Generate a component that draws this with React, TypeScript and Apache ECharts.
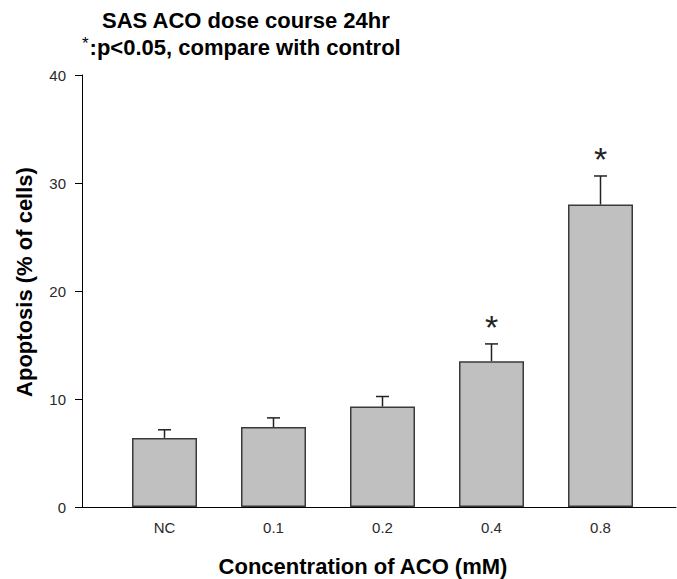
import React, { useEffect, useRef } from "react";
import * as echarts from "echarts";

const categories = ["NC", "0.1", "0.2", "0.4", "0.8"];
const means = [6.4, 7.4, 9.3, 13.5, 28.0];
const errors = [0.75, 0.85, 0.93, 1.6, 2.65];
const significant = [false, false, false, true, true];
const yTicks = { min: 0, max: 40, interval: 10 };

const titleLine1 = "SAS ACO dose course 24hr";
const titleLine2 = ":p<0.05, compare with control";
const xTitle = "Concentration of ACO (mM)";
const yTitle = "Apoptosis (% of cells)";

const FONT = "'Liberation Sans', Arial, sans-serif";

export default function App() {
  const ref = useRef<HTMLDivElement>(null);
  useEffect(() => {
    document.body.style.margin = "0";
    if (!ref.current) return;
    const chart = echarts.init(ref.current, undefined, { renderer: "svg" });
    const errData = categories.map((c, i) => [i, means[i], errors[i], significant[i] ? 1 : 0]);
    chart.setOption({
      animation: false,
      backgroundColor: "#ffffff",
      textStyle: { fontFamily: FONT },
      grid: [
        { left: 82, right: 1, top: 75, bottom: 72 },
        { left: 110, width: 545, top: 75, bottom: 72 },
      ],
      xAxis: [
        {
          type: "category",
          gridIndex: 0,
          data: [""],
          axisLine: { lineStyle: { color: "#000", width: 1 } },
          axisTick: { show: false },
          axisLabel: { show: false },
        },
        {
          type: "category",
          gridIndex: 1,
          data: categories,
          axisLine: { show: false },
          axisTick: { show: false },
          axisLabel: { margin: 13, fontSize: 15, color: "#2a2a2a", fontFamily: FONT },
        },
      ],
      yAxis: [
        {
          type: "value",
          gridIndex: 0,
          min: yTicks.min,
          max: yTicks.max,
          interval: yTicks.interval,
          splitLine: { show: false },
          axisLine: { show: true, lineStyle: { color: "#000", width: 1 } },
          axisTick: { show: true, length: 7, lineStyle: { color: "#000" } },
          axisLabel: { margin: 16, fontSize: 15, color: "#2a2a2a", fontFamily: FONT },
        },
        {
          type: "value",
          gridIndex: 1,
          min: yTicks.min,
          max: yTicks.max,
          interval: yTicks.interval,
          show: false,
        },
      ],
      series: [
        {
          type: "bar",
          xAxisIndex: 1,
          yAxisIndex: 1,
          data: means,
          barWidth: 65,
          itemStyle: { color: "#c0c0c0", borderColor: "#3a3a3a", borderWidth: 1.5 },
        },
        {
          type: "custom",
          xAxisIndex: 1,
          yAxisIndex: 1,
          clip: false,
          data: errData,
          renderItem: (params: any, api: any) => {
            const idx = api.value(0);
            const m = api.value(1);
            const e = api.value(2);
            const sig = api.value(3);
            const base = api.coord([idx, m]);
            const top = api.coord([idx, m + e]);
            const half = 6.5;
            const children: any[] = [
              {
                type: "line",
                shape: { x1: base[0], y1: base[1], x2: top[0], y2: top[1] },
                style: { stroke: "#222", lineWidth: 1.5 },
              },
              {
                type: "line",
                shape: { x1: top[0] - half, y1: top[1], x2: top[0] + half, y2: top[1] },
                style: { stroke: "#222", lineWidth: 1.5 },
              },
            ];
            if (sig) {
              children.push({
                type: "text",
                style: {
                  text: "*",
                  x: top[0],
                  y: top[1] - 17,
                  align: "center",
                  verticalAlign: "middle",
                  font: `normal 34px ${FONT}`,
                  fill: "#222",
                },
              });
            }
            return { type: "group", children };
          },
        },
      ],
      graphic: [
        {
          type: "text",
          style: {
            text: titleLine1,
            x: 102,
            y: 20,
            align: "left",
            verticalAlign: "middle",
            font: `bold 22px ${FONT}`,
            fill: "#000",
          },
        },
        {
          type: "text",
          style: {
            text: "{a|*}{b|" + titleLine2 + "}",
            x: 82,
            y: 47,
            align: "left",
            verticalAlign: "middle",
            rich: {
              a: { fontSize: 17, fontFamily: FONT, fontWeight: "normal", fill: "#000", verticalAlign: "top", padding: [0, 1, 8, 0] },
              b: { fontSize: 22, fontFamily: FONT, fontWeight: "bold", fill: "#000" },
            },
          },
        },
        {
          type: "text",
          rotation: Math.PI / 2,
          x: 24,
          y: 282,
          style: {
            text: yTitle,
            x: 0,
            y: 0,
            align: "center",
            verticalAlign: "middle",
            font: `bold 22px ${FONT}`,
            fill: "#000",
          },
        },
        {
          type: "text",
          style: {
            text: xTitle,
            x: 363,
            y: 566,
            align: "center",
            verticalAlign: "middle",
            font: `bold 22px ${FONT}`,
            fill: "#000",
          },
        },
      ],
    });
    return () => chart.dispose();
  }, []);
  return <div ref={ref} style={{ width: 677, height: 579 }} />;
}
